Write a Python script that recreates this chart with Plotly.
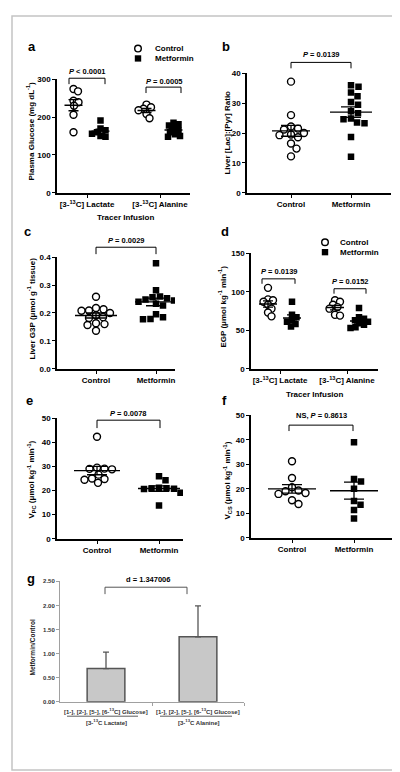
import plotly.graph_objects as go
import numpy as np

W, H = 400, 772
FONT = "Liberation Sans, Arial, sans-serif"

# ---------------- data ----------------
tracer_labels = ["[3-<sup>13</sup>C] Lactate", "[3-<sup>13</sup>C] Alanine"]
group_labels = ["Control", "Metformin"]

# a: plasma glucose (mg/dL)
a_ctrl_lactate = [274, 268, 243, 239, 230, 206, 160]
a_met_lactate = [191, 170, 165, 160, 156, 150, 148]
a_ctrl_alanine = [233, 226, 222, 218, 208, 197]
a_met_alanine = [185, 181, 178, 170, 165, 160, 155, 150, 148]
# b: liver lactate/pyruvate ratio
b_ctrl = [37.2, 26.0, 22.2, 21.5, 21.2, 20.0, 19.5, 19.3, 18.6, 16.5, 14.8, 12.2]
b_met = [36.0, 35.5, 33.6, 32.3, 30.4, 29.5, 27.3, 26.6, 24.9, 24.6, 23.5, 23.3, 18.7, 12.1]
# c: liver G3P
c_ctrl = [0.258, 0.218, 0.213, 0.209, 0.208, 0.200, 0.192, 0.185, 0.182, 0.163, 0.160, 0.157, 0.136]
c_met = [0.378, 0.281, 0.259, 0.256, 0.253, 0.248, 0.245, 0.240, 0.233, 0.227, 0.195, 0.185, 0.178, 0.177]
# d: EGP
d_ctrl_lactate = [105, 90, 89, 87, 83, 78, 73, 68]
d_met_lactate = [87, 70, 67, 63, 61, 58, 55]
d_ctrl_alanine = [89, 87, 83, 80, 78, 70, 69]
d_met_alanine = [79, 67, 65, 63, 61, 59, 57, 54, 53]
# e: VPC
e_ctrl = [42.3, 29.5, 29.1, 29.0, 28.8, 26.6, 25.0, 24.8, 24.5, 23.2]
e_met = [25.9, 24.3, 21.2, 21.0, 20.9, 20.7, 20.6, 19.1, 13.8]
# f: VCS
f_ctrl = [31.2, 24.4, 20.6, 19.3, 19.0, 18.3, 17.9, 15.3, 13.8]
f_met = [39.0, 24.0, 23.0, 20.0, 15.0, 13.5, 11.3, 7.9]
# g: Metformin/Control ratio
g_label_top = ["[1-], [2-], [5-], [6-<sup>13</sup>C] Glucose]", "[1-], [2-], [5-], [6-<sup>13</sup>C] Glucose]"]
g_label_bottom = ["[3-<sup>13</sup>C Lactate]", "[3-<sup>13</sup>C Alanine]"]
g_ratio = [0.69, 1.35]
g_err = [0.34, 0.64]

# ---------------- helpers ----------------
def px(x):
    return x / W

def py(y):
    return 1 - y / H

fig = go.Figure()

panels = {
    1: dict(x0=49, x1=182, top=68, bot=183, p0=79, p1=152, yr=[0, 300], dt=100, labels=tracer_labels),
    2: dict(x0=239, x1=383, top=62, bot=183, p0=283, p1=343, yr=[0, 40], dt=10, labels=group_labels),
    3: dict(x0=49, x1=167, top=248, bot=361, p0=88, p1=148, yr=[0, 0.4], dt=0.1, labels=group_labels),
    4: dict(x0=243, x1=370, top=244, bot=361, p0=272, p1=339, yr=[0, 150], dt=50, labels=tracer_labels),
    5: dict(x0=49, x1=175, top=411, bot=533, p0=89, p1=151, yr=[0, 50], dt=10, labels=group_labels),
    6: dict(x0=243, x1=387, top=408, bot=532, p0=284, p1=346, yr=[0, 50], dt=10, labels=group_labels),
}

tickfont = dict(family=FONT, size=8, color="black", weight="bold")
layout_axes = {}
for n, p in panels.items():
    sx = p["p1"] - p["p0"]
    p["sx"] = sx
    p["sy"] = (p["bot"] - p["top"]) / (p["yr"][1] - p["yr"][0])
    xr = [(p["x0"] - p["p0"]) / sx, (p["x1"] - p["p0"]) / sx]
    xn = "xaxis" if n == 1 else f"xaxis{n}"
    yn = "yaxis" if n == 1 else f"yaxis{n}"
    nticks = int(round((p["yr"][1] - p["yr"][0]) / p["dt"])) + 1
    tv = [round(p["yr"][0] + i * p["dt"], 4) for i in range(nticks)]
    layout_axes[xn] = dict(
        domain=[px(p["x0"]), px(p["x1"])], range=xr, anchor="y" if n == 1 else f"y{n}",
        tickvals=[0, 1], ticktext=p["labels"], showline=True, linecolor="black", linewidth=1.6,
        ticks="outside", ticklen=3, tickwidth=1.4, tickcolor="black", tickfont=tickfont,
        showgrid=False, zeroline=False, fixedrange=True,
    )
    layout_axes[yn] = dict(
        domain=[py(p["bot"]), py(p["top"])], range=p["yr"], anchor="x" if n == 1 else f"x{n}",
        tickvals=tv, ticktext=[("%g" % v) if p["dt"] >= 1 else ("%.1f" % v) for v in tv],
        showline=True, linecolor="black", linewidth=1.6,
        ticks="outside", ticklen=3, tickwidth=1.4, tickcolor="black", tickfont=tickfont,
        showgrid=False, zeroline=False, fixedrange=True,
    )


def swarm(vals, sy, d=7.2):
    placed = []
    offs = []
    for v in vals:
        yv = v * sy
        best = None
        k = 0
        while best is None:
            for sgn in ([1] if k == 0 else [1, -1]):
                ox = sgn * k * 0.5
                if all((ox - a) ** 2 + (yv - b) ** 2 >= d * d for a, b in placed):
                    best = ox
                    break
            k += 1
        placed.append((best, yv))
        offs.append(best)
    return offs


def add_group(n, center, vals, filled, hw, cap, spacing=7.2):
    p = panels[n]
    xa = "x" if n == 1 else f"x{n}"
    ya = "y" if n == 1 else f"y{n}"
    offs = swarm(vals, p["sy"], spacing)
    xs = [center + o / p["sx"] for o in offs]
    if filled:
        mk = dict(symbol="square", size=6.5, color="black", line=dict(width=0))
    else:
        mk = dict(symbol="circle", size=7, color="white", line=dict(color="black", width=1.4))
    fig.add_trace(go.Scatter(x=xs, y=vals, mode="markers", marker=mk, xaxis=xa, yaxis=ya,
                             showlegend=False, hoverinfo="y"))
    m = float(np.mean(vals))
    se = float(np.std(vals, ddof=1) / np.sqrt(len(vals)))
    fig.add_trace(go.Scatter(x=[center - hw / p["sx"], center + hw / p["sx"]], y=[m, m], mode="lines",
                             line=dict(color="black", width=1.4), xaxis=xa, yaxis=ya, showlegend=False,
                             hoverinfo="skip"))
    fig.add_trace(go.Scatter(x=[center], y=[m], mode="markers", marker=dict(size=1, opacity=0),
                             error_y=dict(type="data", array=[se], visible=True, color="black",
                                          thickness=1.3, width=cap),
                             xaxis=xa, yaxis=ya, showlegend=False, hoverinfo="skip"))


# panel a
off_a = 13.5 / panels[1]["sx"]
add_group(1, 0 - off_a, a_ctrl_lactate, False, 9, 5, 5)
add_group(1, 0 + off_a, a_met_lactate, True, 9, 5, 5)
add_group(1, 1 - off_a, a_ctrl_alanine, False, 9, 5, 5)
add_group(1, 1 + off_a, a_met_alanine, True, 9, 5, 5)
# panel b
add_group(2, 0, b_ctrl, False, 19, 10)
add_group(2, 1, b_met, True, 21, 10)
# panel c
add_group(3, 0, c_ctrl, False, 21, 10)
add_group(3, 1, c_met, True, 21, 10)
# panel d
off_d = 12 / panels[4]["sx"]
add_group(4, 0 - off_d, d_ctrl_lactate, False, 9, 5, 5)
add_group(4, 0 + off_d, d_met_lactate, True, 9, 5, 5)
add_group(4, 1 - off_d, d_ctrl_alanine, False, 9, 5, 5)
add_group(4, 1 + off_d, d_met_alanine, True, 9, 5, 5)
# panel e
add_group(5, 0, e_ctrl, False, 23, 10)
add_group(5, 1, e_met, True, 21, 10)
# panel f
add_group(6, 0, f_ctrl, False, 24, 10)
add_group(6, 1, f_met, True, 24, 10)

# panel g (bar chart)
fig.add_trace(go.Bar(x=[0, 1], y=g_ratio, width=0.41, xaxis="x7", yaxis="y7",
                     marker=dict(color="#c8c8c8", line=dict(color="#555555", width=1.5)),
                     error_y=dict(type="data", array=g_err, arrayminus=[0, 0], symmetric=False,
                                  color="#555555", thickness=1.3, width=3),
                     showlegend=False))
gfont = dict(family=FONT, size=6, color="#333333", weight="bold")
layout_axes["xaxis7"] = dict(domain=[px(52), px(236)], range=[-0.5, 1.5], anchor="y7",
                             tickvals=[0, 1], ticktext=["", ""], ticks="", showline=True,
                             linecolor="#a0a0a0", linewidth=1, showgrid=False, zeroline=False,
                             minor=dict(tickvals=[0.5, 1.5], ticks="outside", ticklen=3,
                                        tickcolor="#a0a0a0", tickwidth=1),
                             fixedrange=True)
layout_axes["yaxis7"] = dict(domain=[py(698), py(576)], range=[0, 2.5], anchor="x7",
                             tickvals=[0, 0.5, 1, 1.5, 2, 2.5],
                             ticktext=["0.00", "0.50", "1.00", "1.50", "2.00", "2.50"],
                             ticks="outside", ticklen=3, tickcolor="#a0a0a0", tickwidth=1,
                             showline=True, linecolor="#a0a0a0", linewidth=1, tickfont=gfont,
                             showgrid=False, zeroline=False, fixedrange=True)

# ---------------- annotations ----------------
ann = []


def text(x, y, s, size=8, angle=0, xanchor="center", color="black", weight="bold"):
    ann.append(dict(x=px(x), y=py(y), xref="paper", yref="paper", text=s, showarrow=False,
                    xanchor=xanchor, yanchor="middle", textangle=angle,
                    font=dict(family=FONT, size=size, color=color, weight=weight)))


# panel letters
for lab, x, y in [("a", 24, 35), ("b", 218, 35), ("c", 19, 222), ("d", 217, 222),
                  ("e", 21, 393), ("f", 216, 393), ("g", 23, 573)]:
    text(x, y, lab, size=13)

# y titles
text(22, 121, "Plasma Glucose (mg dL<sup>-1</sup>)", size=8, angle=-90)
text(220, 122, "Liver [Lac]:[Pyr] Ratio", size=8, angle=-90)
text(23, 300, "Liver G3P (μmol g<sup>-1</sup> tissue)", size=8, angle=-90)
text(214, 298, "EGP (μmol kg<sup>-1</sup> min<sup>-1</sup>)", size=8, angle=-90)
text(23, 473, "V<sub>PC</sub> (μmol kg<sup>-1</sup> min<sup>-1</sup>)", size=8, angle=-90)
text(219, 474, "V<sub>CS</sub> (μmol kg<sup>-1</sup> min<sup>-1</sup>)", size=8, angle=-90)
text(25, 643, "Metformin/Control", size=6.5, angle=-90, color="#222222")

# x titles
text(117, 208, "Tracer Infusion", size=8)
text(306, 387, "Tracer Infusion", size=8)

# significance labels
text(79, 60, "<i>P</i> < 0.0001", size=7.5)
text(156, 70, "<i>P</i> = 0.0005", size=7.5)
text(313, 43, "<i>P</i> = 0.0139", size=7.5)
text(118, 231, "<i>P</i> = 0.0029", size=7.5)
text(271, 263, "<i>P</i> = 0.0139", size=7.5)
text(342, 273, "<i>P</i> = 0.0152", size=7.5)
text(120, 406, "<i>P</i> = 0.0078", size=7.5)
text(313, 408, "NS, <i>P</i> = 0.8613", size=7.5)
text(140, 574, "d = 1.347006", size=7.5)

# legends
text(145, 37, "Control", size=8, xanchor="left")
text(145, 47, "Metformin", size=8, xanchor="left")
text(330, 233, "Control", size=8, xanchor="left")
text(330, 243, "Metformin", size=8, xanchor="left")

# panel g category labels
for i in range(2):
    ann.append(dict(x=i, y=py(707), xref="x7", yref="paper", text=g_label_top[i], showarrow=False,
                    xanchor="center", yanchor="middle", font=gfont))
    ann.append(dict(x=i, y=py(718), xref="x7", yref="paper", text=g_label_bottom[i], showarrow=False,
                    xanchor="center", yanchor="middle", font=gfont))

# ---------------- shapes ----------------
shapes = []


def bracket(xl, xr, yt, yb, color="black", width=1):
    path = f"M {px(xl)},{py(yb)} L {px(xl)},{py(yt)} L {px(xr)},{py(yt)} L {px(xr)},{py(yb)}"
    shapes.append(dict(type="path", path=path, xref="paper", yref="paper",
                       line=dict(color=color, width=width)))


bracket(61, 97, 67, 73)
bracket(138, 173, 76, 82)
bracket(283, 343, 51, 57)
bracket(88, 148, 238, 245)
bracket(254, 287, 270, 275)
bracket(326, 358, 280, 285)
bracket(89, 152, 413, 421)
bracket(281, 345, 418, 424)
bracket(97, 179, 582, 589, color="#555555", width=1)

# fraction lines in panel g labels
for xl, xr in [(59, 130), (152, 224)]:
    shapes.append(dict(type="line", x0=px(xl), x1=px(xr), y0=py(712.5), y1=py(712.5),
                       xref="paper", yref="paper", line=dict(color="#333333", width=0.8)))

# legend markers
for cx, cy in [(130, 37), (317, 233)]:
    shapes.append(dict(type="circle", x0=px(cx - 3.3), x1=px(cx + 3.3), y0=py(cy + 3.3), y1=py(cy - 3.3),
                       xref="paper", yref="paper", line=dict(color="black", width=1.4), fillcolor="white"))
for cx, cy in [(130, 47), (317, 243)]:
    shapes.append(dict(type="rect", x0=px(cx - 3.2), x1=px(cx + 3.2), y0=py(cy + 3.2), y1=py(cy - 3.2),
                       xref="paper", yref="paper", line=dict(width=0), fillcolor="black"))

# outer frame
shapes.append(dict(type="rect", x0=px(4), x1=px(395), y0=py(767), y1=py(4), xref="paper", yref="paper",
                   line=dict(color="#c4c4c4", width=1.5), fillcolor="rgba(0,0,0,0)"))

fig.update_layout(
    width=W, height=H, margin=dict(l=0, r=0, t=0, b=0),
    paper_bgcolor="white", plot_bgcolor="white",
    showlegend=False, annotations=ann, shapes=shapes,
    font=dict(family=FONT, color="black"),
    **layout_axes,
)

fig.write_html("out.html")
